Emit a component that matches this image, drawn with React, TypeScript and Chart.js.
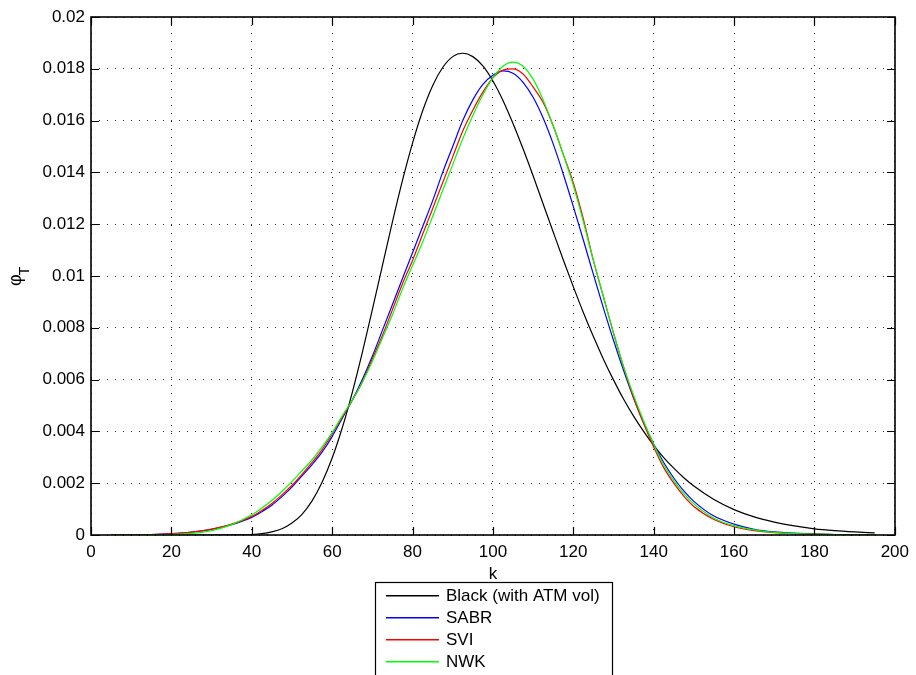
import React, { useEffect, useRef } from "react";
import { Chart, registerables } from "chart.js";

Chart.register(...registerables);

// ---- data ----
const K = [
  5, 10, 15, 20, 25, 30, 35,
  40, 42.5, 45, 47.5, 50, 52.5, 55, 57.5, 60, 62.5, 65, 67.5, 70, 72.5, 75, 77.5,
  80, 82.5, 85, 87.5, 90, 92.5, 95, 97.5, 100, 102.5, 105, 107.5, 110, 112.5, 115, 117.5,
  120, 122.5, 125, 127.5, 130, 132.5, 135, 137.5, 140, 142.5, 145, 147.5, 150,
  155, 160, 165, 170, 175, 180, 185, 190, 195,
];

const BLACK = [
  0, 0, 0, 0, 0, 0, 0.000002,
  0.00002, 0.00005, 0.00012, 0.00024, 0.00046, 0.0008, 0.00132, 0.00204, 0.00297, 0.00413, 0.0055, 0.00704, 0.0087, 0.0104, 0.01209, 0.01369,
  0.01513, 0.01637, 0.01735, 0.01805, 0.01847, 0.0186, 0.01847, 0.01811, 0.01753, 0.01678, 0.01589, 0.01491, 0.01387, 0.01278, 0.0117, 0.01063,
  0.00959, 0.00859, 0.00766, 0.00679, 0.00599, 0.00525, 0.00459, 0.004, 0.00346, 0.00299, 0.00258, 0.00221, 0.00189,
  0.00137, 0.00098, 0.0007, 0.0005, 0.00035, 0.00024, 0.00017, 0.00012, 0.00008,
];

const SABR = [
  0.000005, 0.00001, 0.00002, 0.00005, 0.00011, 0.00022, 0.0004,
  0.00068, 0.0009, 0.00115, 0.00148, 0.00185, 0.00228, 0.00272, 0.0032, 0.0038, 0.0045, 0.0052, 0.006, 0.0069, 0.0079, 0.0089, 0.0099,
  0.0109, 0.0119, 0.0129, 0.014, 0.015, 0.016, 0.0168, 0.0174, 0.01775, 0.01792, 0.01783, 0.01748, 0.0169, 0.0161, 0.0151, 0.01394,
  0.01269, 0.01139, 0.01006, 0.00876, 0.00752, 0.00636, 0.00529, 0.00434, 0.00351, 0.0028, 0.0022, 0.0017, 0.0013,
  0.00073, 0.00042, 0.00022, 0.00012, 0.00007, 0.00004, 0.00002, 0.00001, 0.000005,
];

const SVI = [
  0.000005, 0.00001, 0.00002, 0.00005, 0.00011, 0.00023, 0.00042,
  0.00072, 0.00095, 0.00122, 0.00155, 0.00192, 0.00234, 0.0028, 0.0033, 0.0039, 0.00455, 0.0052, 0.0059, 0.0068, 0.0077, 0.0087, 0.0097,
  0.0106, 0.0116, 0.0126, 0.0136, 0.0146, 0.0156, 0.0164, 0.0171, 0.01765, 0.01795, 0.018, 0.0178, 0.0173, 0.0167, 0.0158, 0.0147,
  0.0136, 0.0122, 0.0106, 0.0092, 0.0078, 0.0065, 0.0053, 0.0043, 0.0034, 0.0026, 0.002, 0.0015, 0.0011,
  0.0006, 0.00032, 0.00017, 0.00009, 0.00005, 0.00003, 0.00002, 0.00001, 0.000005,
];

const NWK = [
  0.000002, 0.000005, 0.00001, 0.00002, 0.00006, 0.00017, 0.0004,
  0.00078, 0.00104, 0.00133, 0.00168, 0.00206, 0.00248, 0.0029, 0.0034, 0.00395, 0.0046, 0.0052, 0.0059, 0.0067, 0.0076, 0.0085, 0.0095,
  0.0104, 0.0113, 0.0123, 0.0133, 0.0143, 0.0153, 0.0162, 0.017, 0.01765, 0.0181, 0.01826, 0.0181, 0.0176, 0.0168, 0.0158, 0.0147,
  0.0135, 0.0121, 0.0106, 0.0092, 0.0078, 0.0065, 0.0054, 0.0044, 0.0035, 0.0027, 0.0021, 0.0016, 0.0012,
  0.00065, 0.00036, 0.0002, 0.0001, 0.00005, 0.00003, 0.00002, 0.00001, 0.000005,
];

const SERIES_NAMES = ["Black (with ATM vol)", "SABR", "SVI", "NWK"];
const SERIES_COLORS = ["rgb(0,0,0)", "rgb(0,0,255)", "rgb(255,0,0)", "rgb(0,255,0)"];
const X_TICKS = [0, 20, 40, 60, 80, 100, 120, 140, 160, 180, 200];
const Y_TICKS = [0, 0.002, 0.004, 0.006, 0.008, 0.01, 0.012, 0.014, 0.016, 0.018, 0.02];
const X_LABEL = "k";
const Y_LABEL_MAIN = "φ";
const Y_LABEL_SUB = "T";

const FONT = '"Liberation Sans", Arial, Helvetica, sans-serif';

const decor = {
  id: "decor",
  afterDraw(chart: any) {
    const { ctx, chartArea: a, scales } = chart;
    const xs = scales.x;
    const ys = scales.y;
    const L = Math.round(a.left), R = Math.round(a.right), T = Math.round(a.top), B = Math.round(a.bottom);
    ctx.save();
    ctx.setLineDash([]);
    ctx.strokeStyle = "#000";
    // tick marks (inside, all four sides)
    ctx.lineWidth = 1.2;
    ctx.beginPath();
    for (const v of X_TICKS) {
      const px = Math.round(xs.getPixelForValue(v)) + 0.5;
      ctx.moveTo(px, B); ctx.lineTo(px, B - 8);
      ctx.moveTo(px, T); ctx.lineTo(px, T + 8);
    }
    for (const v of Y_TICKS) {
      const py = Math.round(ys.getPixelForValue(v)) + 0.5;
      ctx.moveTo(L, py); ctx.lineTo(L + 8, py);
      ctx.moveTo(R, py); ctx.lineTo(R - 8, py);
    }
    ctx.stroke();
    // box
    ctx.lineWidth = 1.6;
    ctx.strokeRect(L, T, R - L, B - T);

    // x label
    ctx.fillStyle = "#000";
    ctx.font = `17px ${FONT}`;
    ctx.textAlign = "center";
    ctx.textBaseline = "alphabetic";
    ctx.fillText(X_LABEL, (L + R) / 2, 579);

    // y label (rotated)
    ctx.save();
    ctx.translate(21, 286);
    ctx.rotate(-Math.PI / 2);
    ctx.textAlign = "left";
    ctx.font = `18px ${FONT}`;
    ctx.fillText(Y_LABEL_MAIN, 0, 0);
    const w = ctx.measureText(Y_LABEL_MAIN).width;
    ctx.font = `14px ${FONT}`;
    ctx.fillText(Y_LABEL_SUB, w - 1, 8);
    ctx.restore();

    // legend
    const bx = 375, by = 582, bw = 237, bh = 110;
    ctx.fillStyle = "#fff";
    ctx.fillRect(bx, by, bw, bh);
    ctx.lineWidth = 1.2;
    ctx.strokeStyle = "#000";
    ctx.strokeRect(bx + 0.5, by + 0.5, bw, bh);
    ctx.font = `17px ${FONT}`;
    ctx.textAlign = "left";
    ctx.textBaseline = "middle";
    for (let i = 0; i < SERIES_NAMES.length; i++) {
      const yy = 595 + i * 22;
      ctx.fillStyle = SERIES_COLORS[i];
      ctx.fillRect(386, yy, 53, 1.5);
      ctx.fillStyle = "#000";
      ctx.fillText(SERIES_NAMES[i], 446, yy + 1);
    }
    ctx.restore();
  },
};

export default function App() {
  const ref = useRef<HTMLCanvasElement | null>(null);
  useEffect(() => {
    if (!ref.current) return;
    Chart.defaults.font.family = FONT;
    const seriesData = [BLACK, SABR, SVI, NWK];
    const chart = new Chart(ref.current, {
      type: "line",
      data: {
        datasets: seriesData.map((arr, i) => ({
          label: SERIES_NAMES[i],
          data: K.map((k, j) => ({ x: k, y: arr[j] })),
          borderColor: SERIES_COLORS[i],
          backgroundColor: SERIES_COLORS[i],
          borderWidth: 1.2,
          pointRadius: 0,
          fill: false,
          cubicInterpolationMode: "monotone" as const,
          order: 4 - i,
        })),
      },
      options: {
        animation: false,
        responsive: false,
        devicePixelRatio: 1,
        layout: { padding: { left: 0, top: 17, right: 20, bottom: 0 } },
        plugins: { legend: { display: false }, tooltip: { enabled: false } },
        events: [],
        scales: {
          x: {
            type: "linear",
            min: 0,
            max: 200,
            afterFit: (s: any) => { s.height = 140; },
            afterBuildTicks: (s: any) => { s.ticks = X_TICKS.map((v) => ({ value: v })); },
            ticks: {
              color: "#000",
              font: { size: 17, family: FONT },
              padding: 7,
              maxRotation: 0,
              autoSkip: false,
              callback: (v: any) => String(Number(Number(v).toFixed(4))),
            },
            grid: { color: "rgba(0,0,0,0.85)", lineWidth: 1, drawTicks: false },
            border: { display: false, dash: [1, 7] },
          },
          y: {
            type: "linear",
            min: 0,
            max: 0.02,
            afterFit: (s: any) => { s.width = 91; },
            afterBuildTicks: (s: any) => { s.ticks = Y_TICKS.map((v) => ({ value: v })); },
            ticks: {
              color: "#000",
              font: { size: 17, family: FONT },
              padding: 6,
              autoSkip: false,
              callback: (v: any) => String(Number(Number(v).toFixed(4))),
            },
            grid: { color: "rgba(0,0,0,0.85)", lineWidth: 1, drawTicks: false },
            border: { display: false, dash: [1, 7] },
          },
        },
      },
      plugins: [decor],
    });
    return () => chart.destroy();
  }, []);
  return (
    <div style={{ position: "fixed", left: 0, top: 0, width: 916, height: 675, background: "#fff", overflow: "hidden" }}>
      <canvas ref={ref} width={916} height={675} style={{ width: 916, height: 675, display: "block" }} />
    </div>
  );
}
